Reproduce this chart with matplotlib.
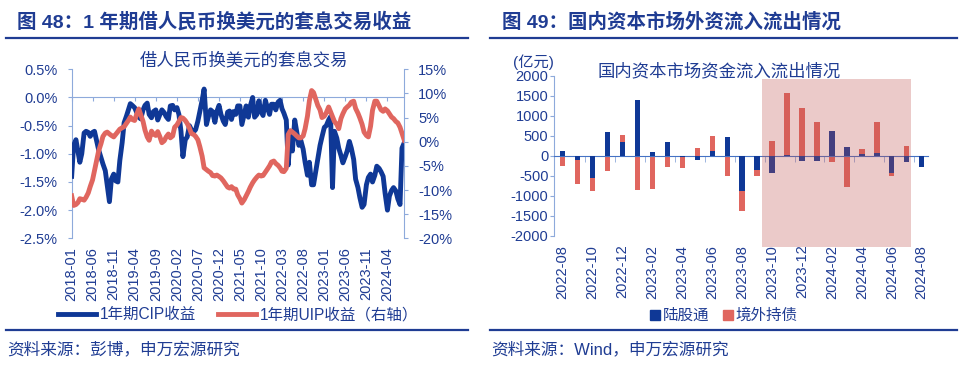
import matplotlib

matplotlib.use("Agg")
import matplotlib.pyplot as plt
from matplotlib.lines import Line2D
from matplotlib.patches import Rectangle
import numpy as np
import pandas as pd

plt.rcParams["font.family"] = ["Liberation Sans", "Noto Sans CJK SC"]
plt.rcParams["axes.unicode_minus"] = False

NAVY = "#1F3C93"
SPINE = "#8EAADB"
ZERO_LINE = "#4472C4"
BLUE = "#0F3896"
RED = "#E0665F"

# ---- left panel: semi-monthly readings, 2018-01 .. 2024-08 (%)
CIP = [
    -1.40, -0.85, -0.75, -0.95, -1.15, -1.00, -0.63, -0.60, -0.62, -0.69,
    -0.62, -0.60, -0.78, -0.93, -1.07, -1.18, -1.30, -1.55, -1.85, -1.45,
    -1.36, -1.48, -1.50, -1.12, -0.80, -0.45, -0.33, -0.22, -0.11, -0.14,
    -0.18, -0.26, -0.35, -0.38, -0.22, -0.14, -0.10, -0.30, -0.36, -0.25,
    -0.22, -0.40, -0.30, -0.22, -0.27, -0.34, -0.39, -0.15, -0.14, -0.22,
    -0.18, -0.30, -0.60, -1.05, -0.75, -0.70, -0.50, -0.57, -0.61, -0.57,
    -0.42, -0.25, -0.05, 0.15, -0.48, -0.34, -0.22, -0.25, -0.44, -0.25,
    -0.14, -0.30, -0.42, -0.48, -0.26, -0.24, -0.39, -0.25, -0.30, -0.15,
    -0.15, -0.48, -0.30, -0.15, -0.35, -0.15, 0.00, -0.35, -0.30, -0.06,
    -0.25, -0.32, -0.05, -0.18, -0.30, -0.12, -0.12, -0.22, -0.08, -0.05,
    -0.20, -0.28, -0.40, -1.20, -0.60, -0.95, -0.40, -0.60, -0.85, -0.76,
    -0.92, -1.15, -1.38, -1.15, -1.55, -1.55, -1.30, -1.10, -0.85, -0.70,
    -0.53, -0.50, -0.40, -0.34, -1.60, -0.60, -0.72, -0.90, -1.03, -1.16,
    -1.05, -0.95, -0.78, -0.90, -1.10, -1.45, -1.60, -1.78, -1.95, -1.90,
    -1.55, -1.42, -1.36, -1.50, -1.38, -1.22, -1.26, -1.32, -1.40, -1.70,
    -2.00, -1.75, -1.65, -1.60, -1.66, -1.80, -1.90, -0.90, -0.80,
]
UIP = [
    -11.2, -13.2, -13.0, -12.6, -11.8, -11.9, -12.1, -11.5, -10.6, -9.3,
    -7.9, -6.0, -3.8, -1.9, -0.4, 1.1, 1.8, 2.0, 1.6, 1.3,
    1.0, 1.5, 2.1, 2.6, 2.9, 3.1, 3.8, 4.4, 5.1, 4.6,
    4.4, 5.6, 6.8, 5.6, 4.2, 2.4, 1.0, 0.3, 2.2, 1.6,
    1.3, 2.1, 1.0, -0.2, 0.2, 1.0, 1.6, 0.8, 1.2, 3.0,
    3.5, 4.2, 5.0, 4.9, 4.4, 3.8, 2.8, 1.7, 1.5, 1.1,
    0.4, -1.0, -3.0, -5.4, -5.8, -6.1, -6.4, -7.0, -7.1, -6.9,
    -7.2, -7.5, -8.1, -8.7, -9.4, -9.6, -9.3, -9.8, -9.8, -11.0,
    -11.8, -12.7, -12.0, -11.2, -10.3, -9.4, -8.5, -7.9, -7.3, -6.9,
    -7.1, -7.0, -6.3, -5.7, -5.0, -4.2, -4.0, -4.5, -4.9, -5.4,
    -6.1, -6.2, -5.5, 1.5, 2.3, 2.0, 1.6, 1.2, 0.8, 0.8,
    1.2, 2.7, 5.3, 8.5, 10.6, 10.2, 8.7, 7.5, 6.6, 5.0,
    5.3, 6.0, 7.2, 6.2, 5.2, 4.2, 3.6, 2.7, 4.8, 5.8,
    6.8, 7.2, 7.6, 8.2, 8.4, 6.9, 5.9, 4.9, 3.6, 2.0,
    1.3, 1.0, 3.2, 6.5, 8.4, 8.4, 7.4, 6.6, 6.3, 6.8,
    6.4, 5.8, 5.1, 4.8, 4.2, 3.9, 3.0, 1.8, 0.3,
]
CIP_YTICKS = [0.5, 0.0, -0.5, -1.0, -1.5, -2.0, -2.5]
UIP_YTICKS = [15, 10, 5, 0, -5, -10, -15, -20]
LEFT_XTICKS = [
    "2018-01", "2018-06", "2018-11", "2019-04", "2019-09", "2020-02",
    "2020-07", "2020-12", "2021-05", "2021-10", "2022-03", "2022-08",
    "2023-01", "2023-06", "2023-11", "2024-04",
]

# ---- right panel: monthly flows (亿元)
FLOW_MONTHS = [
    "2022-08", "2022-09", "2022-10", "2022-11", "2022-12", "2023-01",
    "2023-02", "2023-03", "2023-04", "2023-05", "2023-06", "2023-07",
    "2023-08", "2023-09", "2023-10", "2023-11", "2023-12", "2024-01",
    "2024-02", "2024-03", "2024-04", "2024-05", "2024-06", "2024-07",
    "2024-08",
]
NORTHBOUND = [120, -110, -560, 600, 340, 1410, 90, 355, -30, -110, 130, 460,
              -890, -360, -440, 10, -125, -135, 610, 225, 50, 75, -440, -165,
              -285]
BOND = [-265, -700, -890, -390, 530, -850, -830, -290, -310, 200, 500, -500,
        -1390, -515, 375, 1570, 1210, 840, -150, -790, 165, 840, -505, 240, 0]
FLOW_YTICKS = [2000, 1500, 1000, 500, 0, -500, -1000, -1500, -2000]


def style_text(ax):
    ax.tick_params(labelcolor=NAVY, labelsize=10.5)


fig = plt.figure(figsize=(9.71, 3.65), dpi=100)

# ================= left panel =================
dates = pd.date_range("2018-01-01", periods=len(CIP), freq="SMS")
ax = fig.add_axes([0.0738, 0.3471, 0.3426, 0.4630])
ax.plot(dates, CIP, color=BLUE, lw=3.5, zorder=3)
ax.set_ylim(-2.5, 0.5)
ax.set_yticks(CIP_YTICKS)
ax.set_yticklabels([f"{v:.1f}%" for v in CIP_YTICKS])
ax.set_xlim(dates[0], dates[-1])
ax.set_xticks(pd.to_datetime(LEFT_XTICKS))
ax.set_xticklabels(LEFT_XTICKS)
ax.spines["bottom"].set_position(("data", 0))
ax.spines["bottom"].set_color(SPINE)
ax.spines["left"].set_color(SPINE)
ax.spines["top"].set_visible(False)
ax.spines["right"].set_visible(False)
ax.tick_params(axis="y", length=3, color=SPINE, pad=7)
style_text(ax)
ax.tick_params(axis="x", length=3, color=SPINE, pad=105, labelrotation=90)

ax2 = ax.twinx()
ax2.plot(dates, UIP, color=RED, lw=3.5, zorder=3)
ax2.set_ylim(-20, 15)
ax2.set_yticks(UIP_YTICKS)
ax2.set_yticklabels([f"{v:d}%" for v in UIP_YTICKS])
for side in ("top", "bottom", "left"):
    ax2.spines[side].set_visible(False)
ax2.spines["right"].set_color(SPINE)
ax2.tick_params(axis="y", length=3, color=SPINE, pad=7)
style_text(ax2)

fig.text(0.2511, 0.8356, "借人民币换美元的套息交易", ha="center", va="center",
         fontsize=12.5, color=NAVY)
fig.legend(
    handles=[Line2D([], [], color=BLUE, lw=3.5), Line2D([], [], color=RED, lw=3.5)],
    labels=["1年期CIP收益", "1年期UIP收益（右轴）"],
    loc="center", bbox_to_anchor=(0.2456, 0.1380), ncol=2, frameon=False,
    fontsize=11.2, handlelength=2.4, columnspacing=1.4, handletextpad=0.3,
    labelcolor=NAVY,
)

# ================= right panel =================
idx = np.arange(len(FLOW_MONTHS))
bx = fig.add_axes([0.5705, 0.3542, 0.3852, 0.4376])
bx.bar(idx, BOND, width=0.36, color=RED, zorder=2)
bx.bar(idx, NORTHBOUND, width=0.36, color=BLUE, zorder=3)
bx.add_patch(Rectangle((13.33, -2290), 9.95, 4210, facecolor="#C0504D",
                       alpha=0.3, edgecolor="none", zorder=4, clip_on=False))
bx.set_xlim(-0.58, 24.42)
bx.set_ylim(-2000, 2000)
bx.set_yticks(FLOW_YTICKS)
bx.set_yticklabels([f"{v:d}" for v in FLOW_YTICKS])
bx.set_xticks(idx[::2])
bx.set_xticklabels(FLOW_MONTHS[::2])
bx.set_xticks(np.arange(1.5, 24, 2), minor=True)
bx.spines["bottom"].set_position(("data", 0))
bx.spines["bottom"].set_color(ZERO_LINE)
bx.spines["left"].set_color(SPINE)
bx.spines["top"].set_visible(False)
bx.spines["right"].set_visible(False)
bx.tick_params(axis="y", length=3, color=SPINE, pad=1)
style_text(bx)
bx.tick_params(axis="x", which="major", length=0, pad=64, labelrotation=90)
bx.tick_params(axis="x", which="minor", length=4, color=SPINE)

fig.text(0.5489, 0.8290, "(亿元)", ha="center", va="center", fontsize=11, color=NAVY)
fig.text(0.7410, 0.8068, "国内资本市场资金流入流出情况", ha="center", va="center",
         fontsize=12.5, color=NAVY)
fig.legend(
    handles=[Line2D([], [], marker="s", ls="", color=BLUE, markersize=7),
             Line2D([], [], marker="s", ls="", color=RED, markersize=7)],
    labels=["陆股通", "境外持债"],
    loc="center", bbox_to_anchor=(0.7446, 0.1350), ncol=2, frameon=False,
    fontsize=11.2, handlelength=0.8, columnspacing=0.8, handletextpad=0.1,
    labelcolor=NAVY,
)

# ================= headers and footers =================
fig.text(0.0172, 0.9397, "图 48：1 年期借人民币换美元的套息交易收益", ha="left",
         va="center", fontsize=14, fontweight="bold", color=NAVY)
fig.text(0.5167, 0.9397, "图 49：国内资本市场外资流入流出情况", ha="left",
         va="center", fontsize=14, fontweight="bold", color=NAVY)
for x0, x1 in ((0.0062, 0.4820), (0.5046, 0.9856)):
    fig.add_artist(Line2D([x0, x1], [0.8967, 0.8967], color=NAVY, lw=1.6))
    fig.add_artist(Line2D([x0, x1], [0.0959, 0.0959], color=NAVY, lw=1.6))
fig.text(0.0072, 0.0438, "资料来源：彭博，申万宏源研究", ha="left", va="center",
         fontsize=12, color=NAVY)
fig.text(0.5057, 0.0438, "资料来源：Wind，申万宏源研究", ha="left", va="center",
         fontsize=12, color=NAVY)

fig.savefig("out.png", dpi=100)
plt.close(fig)
